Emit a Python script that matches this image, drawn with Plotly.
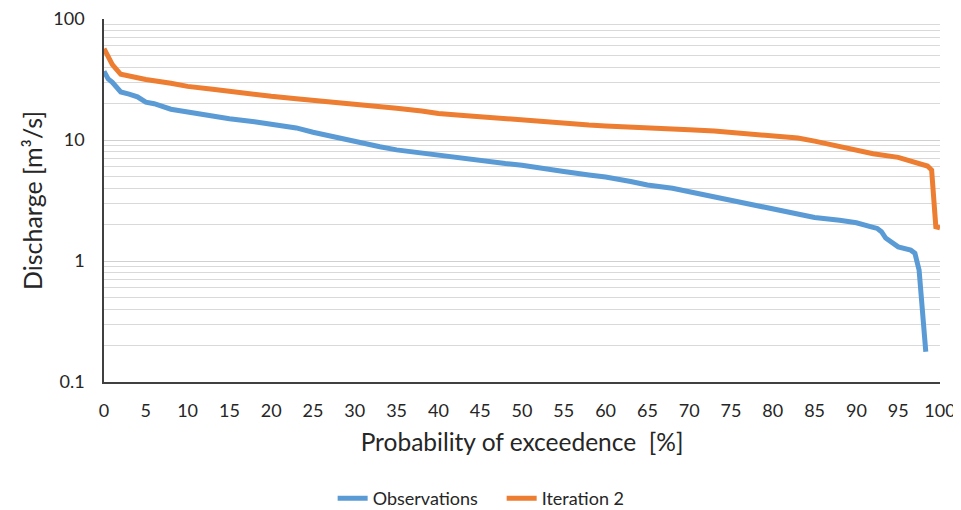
import plotly.graph_objects as go

obs_x = [0, 0.5, 1, 2, 3, 4, 5, 6, 8, 10, 12, 15, 18, 20, 23, 25, 28, 30, 33, 35, 38, 40, 43, 45, 48, 50, 53, 55, 58, 60, 63, 65, 68, 70, 73, 75, 78, 80, 83, 85, 88, 90, 92, 92.5, 93, 93.5, 95, 96.5, 97, 97.5, 98.3]
obs_y = [37, 32, 30, 25, 24, 22.8, 20.6, 20.0, 18.0, 17.0, 16.2, 15.0, 14.2, 13.6, 12.6, 11.6, 10.4, 9.8, 8.8, 8.3, 7.8, 7.4, 7.0, 6.75, 6.4, 6.2, 5.85, 5.5, 5.15, 4.95, 4.55, 4.25, 4.0, 3.74, 3.35, 3.19, 2.85, 2.65, 2.45, 2.29, 2.17, 2.07, 1.9, 1.86, 1.75, 1.55, 1.31, 1.23, 1.16, 0.84, 0.178]

it_x = [0, 0.5, 1, 2, 3, 5, 8, 10, 13, 15, 18, 20, 23, 25, 28, 30, 33, 35, 38, 40, 43, 45, 48, 50, 53, 55, 58, 60, 63, 65, 68, 70, 73, 75, 78, 80, 83, 85, 88, 90, 92, 95, 97, 98.5, 99, 99.5, 100]
it_y = [57, 50, 42, 35, 33.8, 31.7, 29.5, 27.8, 26.3, 25.2, 23.8, 23.0, 22.0, 21.4, 20.1, 19.7, 19.0, 18.3, 17.4, 16.6, 16.0, 15.6, 14.9, 14.5, 14.0, 13.7, 13.3, 13.1, 12.9, 12.6, 12.4, 12.2, 11.9, 11.6, 11.2, 10.9, 10.4, 9.8, 8.9, 8.3, 7.7, 7.2, 6.6, 6.1, 5.65, 1.92, 1.88]

fig = go.Figure()
fig.add_trace(go.Scatter(x=obs_x, y=obs_y, mode="lines", name="Observations",
                         line=dict(color="#5B9BD5", width=5)))
fig.add_trace(go.Scatter(x=it_x, y=it_y, mode="lines", name="Iteration 2",
                         line=dict(color="#ED7D31", width=5)))

font_family = "Lato, 'Open Sans', sans-serif"
fig.update_layout(
    width=953, height=502,
    margin=dict(l=96, r=21, t=11, b=128, autoexpand=False),
    paper_bgcolor="white", plot_bgcolor="white",
    font=dict(family=font_family, color="#262626"),
    showlegend=True,
    legend=dict(orientation="h", xref="container", x=0.518, xanchor="center", y=-0.27, yanchor="top",
                font=dict(size=18, color="#262626"), traceorder="normal", entrywidth=124),
    xaxis=dict(range=[0, 100], tick0=0, dtick=5, showgrid=False, zeroline=False,
               showline=True, linecolor="#404040", linewidth=1.5, automargin=False,
               ticks="outside", ticklen=12, tickcolor="rgba(0,0,0,0)", tickfont=dict(size=18),
               ticklabeloverflow="allow",
               title=dict(text="Probability of exceedence  [%]", font=dict(size=24.5), standoff=14)),
    yaxis=dict(type="log", range=[-1, 2.001], showgrid=True, gridcolor="#D0D0D0",
               gridwidth=1, zeroline=False, showline=True, linecolor="#404040", linewidth=1.5,
               automargin=False, ticklabeloverflow="allow",
               ticks="outside", ticklen=14, tickcolor="rgba(0,0,0,0)", tickfont=dict(size=18),
               tickvals=[0.1, 1, 10, 100], ticktext=["0.1", "1", "10", "100"],
               minor=dict(showgrid=True, dtick="D1", gridcolor="#D9D9D9", gridwidth=1),
               title=dict(text="Discharge [m³/s]", font=dict(size=25), standoff=4)),
)

fig.write_html("out.html")
